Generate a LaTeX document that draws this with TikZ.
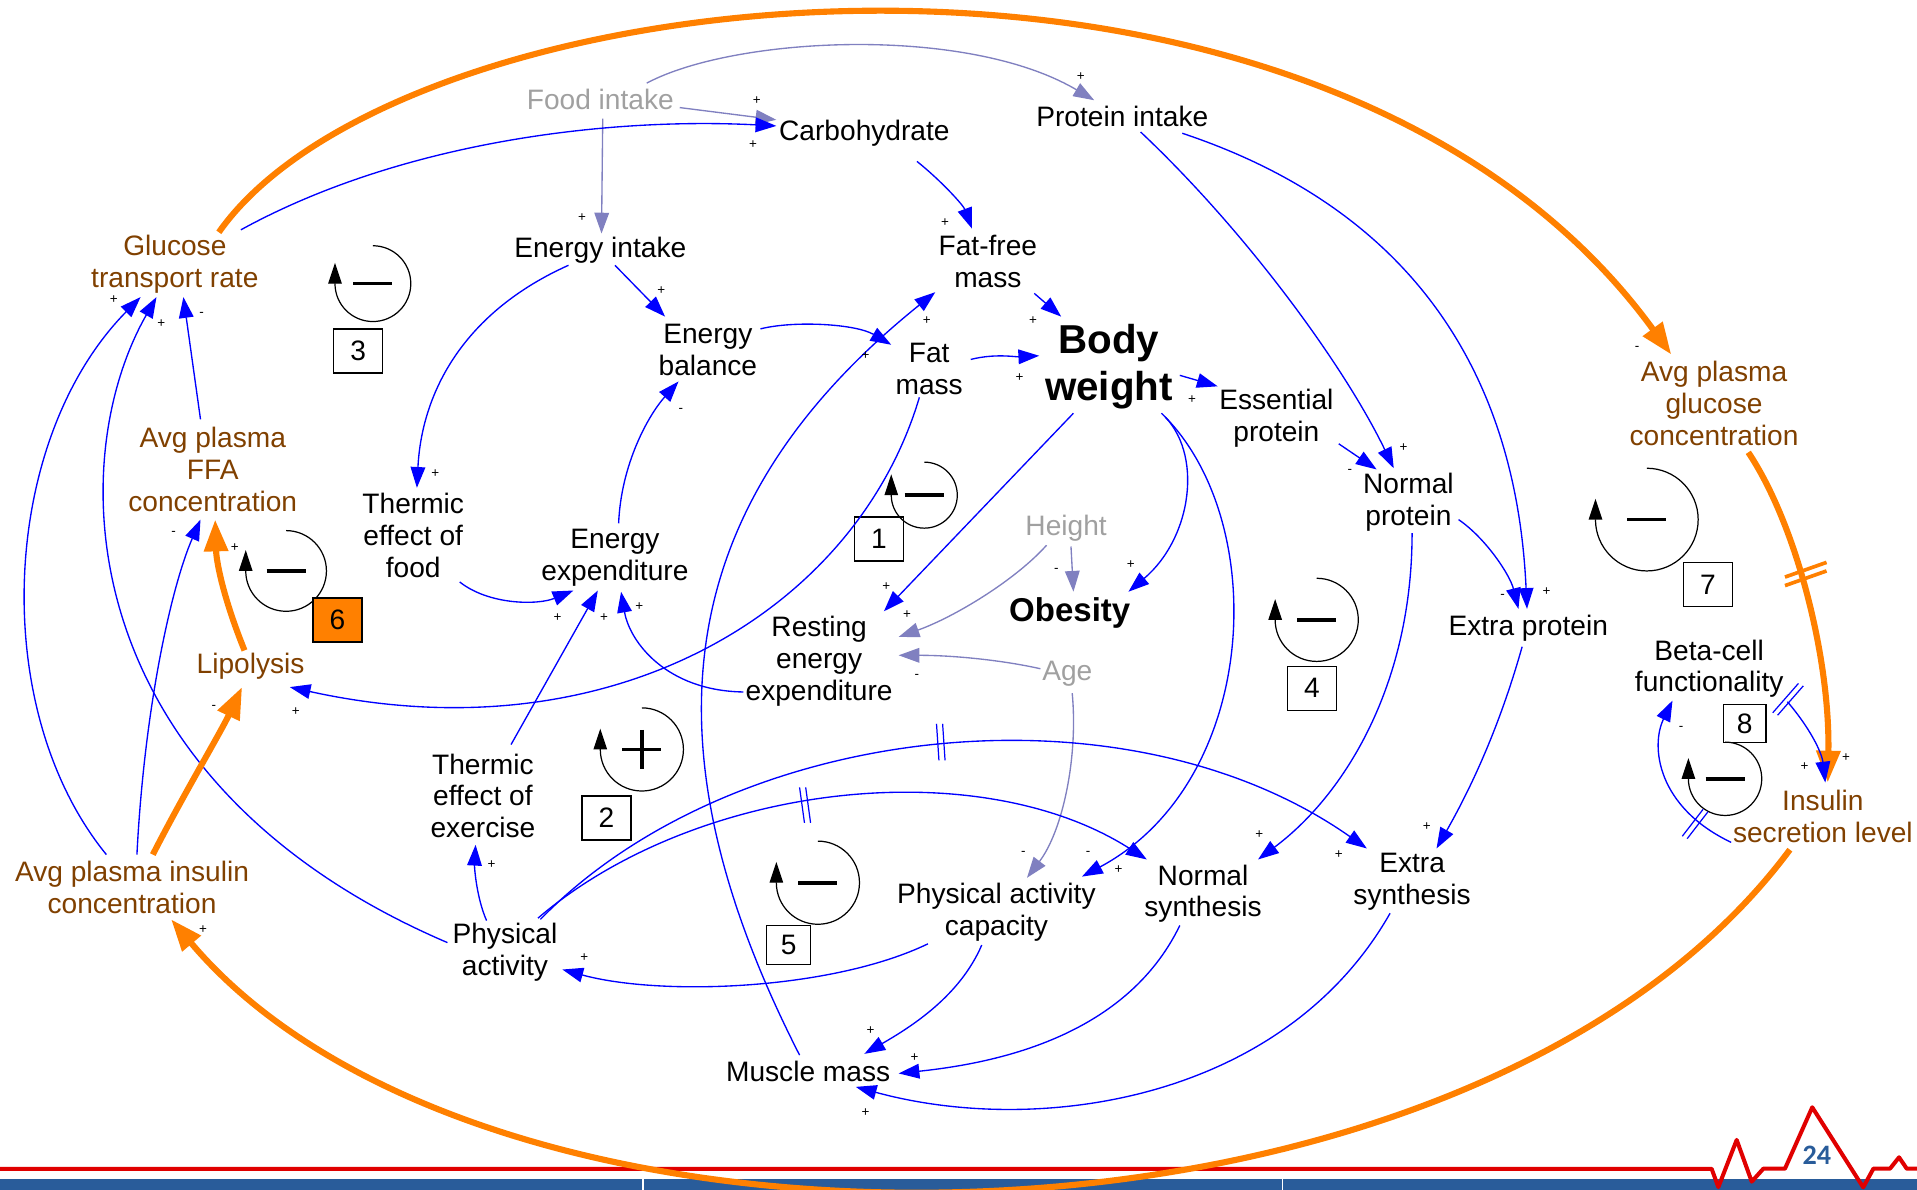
\documentclass[tikz,border=0pt]{standalone}
\usepackage{fontspec}
\setmainfont{Liberation Sans}
\newfontfamily\numfont{Carlito}
\usetikzlibrary{arrows.meta}
\definecolor{brn}{RGB}{128,64,0}
\definecolor{gtx}{RGB}{160,160,160}
\definecolor{lavc}{RGB}{128,128,192}
\definecolor{orgc}{RGB}{255,128,0}
\definecolor{barblue}{RGB}{41,92,154}
\definecolor{ecgred}{RGB}{224,0,0}
\tikzset{
  pics/loopneg/.style={code={
    \draw[line width=1pt,-{Triangle[length=17pt,width=11pt]}] (0,-#1) arc[start angle=-90,end angle=180,radius=#1] -- ++(0,-17);
    \draw[line width=3pt] (-16,0) -- (16,0);
  }},
  pics/looppos/.style={code={
    \draw[line width=1pt,-{Triangle[length=17pt,width=11pt]}] (0,-#1) arc[start angle=-90,end angle=180,radius=#1] -- ++(0,-17);
    \draw[line width=3pt] (-16,0) -- (16,0) (0,-16) -- (0,16);
  }}
}
\begin{document}
\begin{tikzpicture}[x=1pt,y=-1pt,
  every node/.style={inner sep=0pt, outer sep=0pt},
  var/.style={align=center, font=\fontsize{23}{26}\selectfont},
  bvar/.style={var, text=brn},
  gvar/.style={var, text=gtx},
  blu/.style={draw=blue, line width=1.1pt, -{Triangle[length=17pt,width=12pt]}},
  lav/.style={draw=lavc, line width=1.1pt, -{Triangle[length=17pt,width=12pt]}},
  org/.style={draw=orgc, line width=5pt, -{Triangle[length=26pt,width=19pt]}},
  sgn/.style={font=\fontsize{11}{11}\selectfont},
  numbox/.style={draw=black, line width=1.1pt, minimum width=40pt, minimum height=36pt, font=\fontsize{23}{26}\selectfont},
  delayb/.style={draw=blue, line width=1pt},
  delayo/.style={draw=orgc, line width=3pt},
]
\useasboundingbox (0,0) rectangle (1568,973);
% bottom strip
\fill[barblue] (0,964) rectangle (1568,973);
\draw[white, line width=1.2pt] (526,964) -- (526,973) (1049,964) -- (1049,973);
\draw[ecgred, line width=3.3pt, line join=round] (0,956) -- (1400,956) -- (1405.5,971) -- (1420.5,932.4) -- (1432.8,966.5) -- (1442.3,955.9) -- (1460,955.9) -- (1482.3,905.7) -- (1524,971.2) -- (1532.3,955.9) -- (1545.9,955.9) -- (1553.3,946.6) -- (1559.6,955.9) -- (1568,955.9);
\node[font=\numfont\bfseries\fontsize{23}{23}\selectfont, text=barblue] (pg) at (1486,945) {24};

% variables
\node[gvar] (food) at (491,81) {Food intake};
\node[var] (carb) at (707,109) {Carbohydrate};
\node[var] (prot) at (918,95) {Protein intake};
\node[bvar] (gluc) at (143,216) {Glucose\\transport rate};
\node[var] (eint) at (491,205) {Energy intake};
\node[var] (ffm) at (808,214) {Fat-free\\mass};
\node[var] (ebal) at (579,286) {Energy\\balance};
\node[var] (fat) at (760,302) {Fat\\mass};
\node[var, font=\bfseries\fontsize{33}{39}\selectfont] (bw) at (907,300) {Body\\weight};
\node[var] (ess) at (1044,342) {Essential\\protein};
\node[bvar] (apg) at (1402,330) {Avg plasma\\glucose\\concentration};
\node[bvar] (ffa) at (174,384) {Avg plasma\\FFA\\concentration};
\node[var] (tef) at (338,438) {Thermic\\effect of\\food};
\node[var] (ee) at (503,456) {Energy\\expenditure};
\node[var] (np) at (1152,411) {Normal\\protein};
\node[gvar] (height) at (872,432) {Height};
\node[var, font=\bfseries\fontsize{27}{30}\selectfont] (obes) at (875,501) {Obesity};
\node[var] (ree) at (670,541) {Resting\\energy\\expenditure};
\node[gvar] (age) at (873,551) {Age};
\node[var] (ep) at (1250,514) {Extra protein};
\node[var] (beta) at (1398,547) {Beta-cell\\functionality};
\node[bvar] (lip) at (205,545) {Lipolysis};
\node[var] (tee) at (395,651) {Thermic\\effect of\\exercise};
\node[bvar] (api) at (108,726) {Avg plasma insulin\\concentration};
\node[bvar] (ins) at (1491,668) {Insulin\\secretion level};
\node[var] (pa) at (413,779) {Physical\\activity};
\node[var] (pac) at (815,746) {Physical activity\\capacity};
\node[var] (ns) at (984,731) {Normal\\synthesis};
\node[var] (es) at (1155,721) {Extra\\synthesis};
\node[var] (mm) at (661,876) {Muscle mass};

% loops
\pic at (756,405) {loopneg=27};
\pic at (525,613) {looppos=34};
\pic at (305,232) {loopneg=31};
\pic at (1077,507) {loopneg=34};
\pic at (669,722) {loopneg=34};
\pic at (234,467) {loopneg=33};
\pic at (1347,425) {loopneg=42};
\pic at (1411,637) {loopneg=30};
\node[numbox] (b1) at (719,441) {1};
\node[numbox] (b2) at (496,669) {2};
\node[numbox] (b3) at (293,287) {3};
\node[numbox] (b4) at (1073,563) {4};
\node[numbox, minimum width=36pt, minimum height=32pt] (b5) at (645,773) {5};
\node[numbox, fill=orgc] (b6) at (276,507) {6};
\node[numbox] (b7) at (1397,478) {7};
\node[numbox, minimum width=35pt, minimum height=31pt] (b8) at (1427,592) {8};

% connectors
\draw[lav] ([shift={(65,7)}]food.center) -- ([shift={(-72,-11)}]carb.center);
\draw[lav] ([shift={(2,16)}]food.center) -- ([shift={(1,-14)}]eint.center);
\draw[lav] ([shift={(38,-13)}]food.center) .. controls +(71,-38) and +(-105,-62) .. ([shift={(-23,-13)}]prot.center);
\draw[blu] ([shift={(54,-28)}]gluc.center) .. controls +(133,-73) and +(-135,-7) .. ([shift={(-72,-6)}]carb.center);
\draw[org] ([shift={(36,-26)}]gluc.center) .. controls +(151,-215) and +(-287,-395) .. ([shift={(-35,-40)}]apg.center);
\draw[blu] ([shift={(12,12)}]eint.center) -- ([shift={(-35,-27)}]ebal.center);
\draw[blu] ([shift={(-26,12)}]eint.center) .. controls +(-85,38) and +(4,-79) .. ([shift={(3,-39)}]tef.center);
\draw[blu] ([shift={(43,-17)}]ebal.center) .. controls +(28,-7) and +(-29,-17) .. ([shift={(-31,-20)}]fat.center);
\draw[blu] ([shift={(3,-28)}]ee.center) .. controls +(2,-48) and +(-25,28) .. ([shift={(-24,26)}]ebal.center);
\draw[blu] ([shift={(38,38)}]tef.center) .. controls +(24,19) and +(-29,12) .. ([shift={(-34,27)}]ee.center);
\draw[blu] ([shift={(23,-42)}]tee.center) -- ([shift={(-14,27)}]ee.center);
\draw[blu] ([shift={(-62,25)}]ree.center) .. controls +(-63,-1) and +(7,41) .. ([shift={(5,28)}]ee.center);
\draw[blu] ([shift={(43,23)}]carb.center) .. controls +(20,16) and +(-7,-19) .. ([shift={(-13,-27)}]ffm.center);
\draw[blu] ([shift={(38,26)}]ffm.center) -- ([shift={(-39,-41)}]bw.center);
\draw[blu] ([shift={(34,-8)}]fat.center) .. controls +(20,-5) and +(-20,1) .. ([shift={(-57,-9)}]bw.center);
\draw[blu] ([shift={(58,7)}]bw.center) -- ([shift={(-48,-26)}]ess.center);
\draw[blu] ([shift={(51,21)}]ess.center) -- ([shift={(-26,-27)}]np.center);
\draw[blu] ([shift={(15,13)}]prot.center) .. controls +(87,82) and +(-40,-83) .. ([shift={(-12,-28)}]np.center);
\draw[blu] ([shift={(49,14)}]prot.center) .. controls +(183,61) and +(-9,-198) .. ([shift={(-1,-16)}]ep.center);
\draw[blu] ([shift={(41,14)}]np.center) .. controls +(22,15) and +(-7,-28) .. ([shift={(-8,-16)}]ep.center);
\draw[blu] ([shift={(43,38)}]bw.center) .. controls +(35,32) and +(52,-44) .. ([shift={(48,-17)}]obes.center);
\draw[lav] ([shift={(4,15)}]height.center) -- ([shift={(3,-17)}]obes.center);
\draw[lav] ([shift={(-16,14)}]height.center) .. controls +(-26,29) and +(45,-16) .. ([shift={(65,-20)}]ree.center);
\draw[lav] ([shift={(-22,-4)}]age.center) .. controls +(-31,-7) and +(45,0) .. ([shift={(65,-5)}]ree.center);
\draw[blu] ([shift={(-29,38)}]bw.center) -- ([shift={(53,-41)}]ree.center);
\draw[lav] ([shift={(4,16)}]age.center) .. controls +(5,53) and +(29,-38) .. ([shift={(25,-28)}]pac.center);
\draw[blu] ([shift={(46,41)}]bw.center) .. controls +(87,89) and +(144,-77) .. ([shift={(70,-29)}]pac.center);
\draw[blu] ([shift={(27,-28)}]pa.center) .. controls +(130,-111) and +(-138,-88) .. ([shift={(-46,-28)}]ns.center);
\draw[blu] ([shift={(29,-27)}]pa.center) .. controls +(158,-162) and +(-198,-139) .. ([shift={(-37,-27)}]es.center);
\draw[blu] ([shift={(3,25)}]np.center) .. controls +(0,124) and +(71,-53) .. ([shift={(45,-28)}]ns.center);
\draw[blu] ([shift={(-5,15)}]ep.center) .. controls +(-20,71) and +(25,-44) .. ([shift={(20,-27)}]es.center);
\draw[blu] ([shift={(-56,26)}]pac.center) .. controls +(-79,38) and +(80,22) .. ([shift={(47,14)}]pa.center);
\draw[blu] ([shift={(-12,27)}]pac.center) .. controls +(-18,42) and +(38,-22) .. ([shift={(46,-14)}]mm.center);
\draw[blu] ([shift={(-19,26)}]ns.center) .. controls +(-45,93) and +(75,-8) .. ([shift={(74,2)}]mm.center);
\draw[blu] ([shift={(-18,26)}]es.center) .. controls +(-87,153) and +(150,41) .. ([shift={(39,13)}]mm.center);
\draw[blu] ([shift={(-7,-13)}]mm.center) .. controls +(-124,-243) and +(-225,181) .. ([shift={(-43,25)}]ffm.center);
\draw[blu] ([shift={(-8,23)}]fat.center) .. controls +(-52,175) and +(263,58) .. ([shift={(32,17)}]lip.center);
\draw[blu] ([shift={(-21,-27)}]api.center) .. controls +(-97,-119) and +(-115,117) .. ([shift={(-28,27)}]gluc.center);
\draw[blu] ([shift={(-47,-8)}]pa.center) .. controls +(-306,-131) and +(-78,137) .. ([shift={(-15,27)}]gluc.center);
\draw[blu] ([shift={(-10,-41)}]ffa.center) -- ([shift={(7,27)}]gluc.center);
\draw[blu] ([shift={(4,-27)}]api.center) .. controls +(6,-119) and +(-24,55) .. ([shift={(-10,41)}]ffa.center);
\draw[org] ([shift={(-5,-13)}]lip.center) .. controls +(-17,-42) and +(1,35) .. ([shift={(2,41)}]ffa.center);
\draw[org] ([shift={(17,-27)}]api.center) .. controls +(25,-49) and +(-18,38) .. ([shift={(-7,17)}]lip.center);
\draw[blu] ([shift={(-15,-26)}]pa.center) .. controls +(-8,-18) and +(-1,19) .. ([shift={(-6,40)}]tee.center);
\draw[org] ([shift={(-27,27)}]ins.center) .. controls +(-264,355) and +(260,308) .. ([shift={(32,26)}]api.center);
\draw[org] ([shift={(28,40)}]apg.center) .. controls +(40,60) and +(2,-100) .. ([shift={(4,-28)}]ins.center);
\draw[blu] ([shift={(64,27)}]beta.center) .. controls +(18,21) and +(-3,-25) .. ([shift={(2,-28)}]ins.center);
\draw[blu] ([shift={(-75,21)}]ins.center) .. controls +(-61,-29) and +(-18,37) .. ([shift={(-30,26)}]beta.center);

% delay marks
\draw[delayb] (766,592) -- (768,622) (771,592) -- (773,622);
\draw[delayb] (654,644) -- (658,673) (659,644) -- (663,673);
\draw[delayb] (1450,583) -- (1471,559) (1454,585) -- (1475,561);
\draw[delayb] (1376,684) -- (1393,662) (1380,686) -- (1397,664);
\draw[delayo] (1460,479) -- (1494,467) (1460,472) -- (1494,460);

% polarity signs
\node[sgn] (s1) at (619,82) {+};
\node[sgn] (s2) at (616,118) {+};
\node[sgn] (s3) at (884,63) {+};
\node[sgn] (s4) at (476,178) {+};
\node[sgn] (s5) at (773,182) {+};
\node[sgn] (s6) at (541,238) {+};
\node[sgn] (s7) at (845,262) {+};
\node[sgn] (s8) at (758,262) {+};
\node[sgn] (s9) at (708,291) {+};
\node[sgn] (s10) at (834,309) {+};
\node[sgn] (s11) at (975,327) {+};
\node[sgn] (s12) at (557,336) {-};
\node[sgn] (s13) at (1104,386) {-};
\node[sgn] (s14) at (1148,366) {+};
\node[sgn] (s15) at (356,387) {+};
\node[sgn] (s16) at (1339,285) {-};
\node[sgn] (s17) at (925,462) {+};
\node[sgn] (s18) at (864,467) {-};
\node[sgn] (s19) at (725,480) {+};
\node[sgn] (s20) at (742,503) {+};
\node[sgn] (s21) at (750,553) {-};
\node[sgn] (s22) at (456,505) {+};
\node[sgn] (s23) at (494,505) {+};
\node[sgn] (s24) at (523,496) {+};
\node[sgn] (s25) at (1229,488) {-};
\node[sgn] (s26) at (1265,484) {+};
\node[sgn] (s27) at (93,245) {+};
\node[sgn] (s28) at (132,265) {+};
\node[sgn] (s29) at (165,257) {-};
\node[sgn] (s30) at (142,436) {-};
\node[sgn] (s31) at (192,448) {+};
\node[sgn] (s32) at (175,579) {-};
\node[sgn] (s33) at (242,582) {+};
\node[sgn] (s34) at (837,698) {-};
\node[sgn] (s35) at (890,698) {-};
\node[sgn] (s36) at (915,711) {+};
\node[sgn] (s37) at (1030,683) {+};
\node[sgn] (s38) at (1095,699) {+};
\node[sgn] (s39) at (1167,676) {+};
\node[sgn] (s40) at (402,707) {+};
\node[sgn] (s41) at (478,783) {+};
\node[sgn] (s42) at (712,843) {+};
\node[sgn] (s43) at (748,865) {+};
\node[sgn] (s44) at (708,910) {+};
\node[sgn] (s45) at (166,760) {+};
\node[sgn] (s46) at (1476,627) {+};
\node[sgn] (s47) at (1510,620) {+};
\node[sgn] (s48) at (1375,596) {-};
\end{tikzpicture}
\end{document}
